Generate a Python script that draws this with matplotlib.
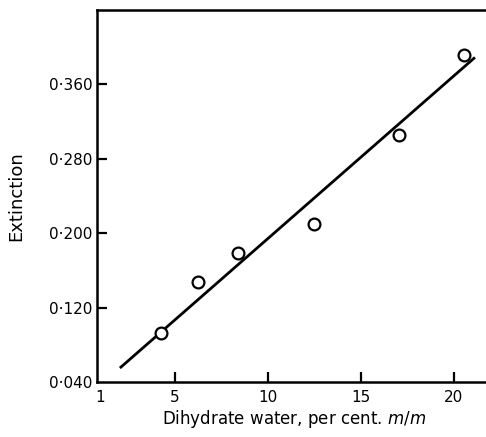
import numpy as np
import matplotlib
matplotlib.use("Agg")
import matplotlib.pyplot as plt

# measured points (dihydrate water %, extinction)
water = [4.23, 6.24, 8.39, 12.46, 17.03, 20.52]
extinction = [0.093, 0.148, 0.179, 0.210, 0.306, 0.392]

# drawn calibration line end points
line_x = [2.04, 21.13]
line_y = [0.055, 0.389]

xticks = [1, 5, 10, 15, 20]
yticks = [0.040, 0.120, 0.200, 0.280, 0.360]

plt.rcParams['font.family'] = ['DejaVu Sans']
plt.rcParams['mathtext.fontset'] = 'dejavusans'

fig = plt.figure(figsize=(4.86, 4.37), dpi=100)
ax = fig.add_axes([0.1996, 0.1259, 0.811, 0.8513])

ax.plot(line_x, line_y, 'k-', lw=2.0, solid_capstyle='butt')
ax.plot(water, extinction, 'o', mfc='white', mec='black', ms=8.5, mew=1.6)

ax.set_xlim(0.81, 22)
ax.set_ylim(0.04, 0.44)
ax.set_xticks(xticks)
ax.set_xticklabels([str(t) for t in xticks])
ax.set_yticks(yticks)
ax.set_yticklabels([f"{t:.3f}".replace('.', '\u00b7') for t in yticks])

for side in ['left', 'bottom', 'top']:
    ax.spines[side].set_linewidth(1.8)
ax.spines['right'].set_visible(False)

ax.tick_params(axis='both', direction='in', length=7, width=1.6, labelsize=11)
ax.tick_params(axis='x', pad=6)
ax.tick_params(axis='y', pad=3)
# the "1" sits on the corner, no tick mark drawn there
ax.xaxis.get_major_ticks()[0].tick1line.set_visible(False)
ax.yaxis.get_major_ticks()[0].tick1line.set_visible(False)

ax.set_xlabel('Dihydrate water, per cent. $\\it{m/m}$', fontsize=12, labelpad=2)
ax.set_ylabel('Extinction', fontsize=13, labelpad=17)

fig.savefig('out.png', dpi=100)
